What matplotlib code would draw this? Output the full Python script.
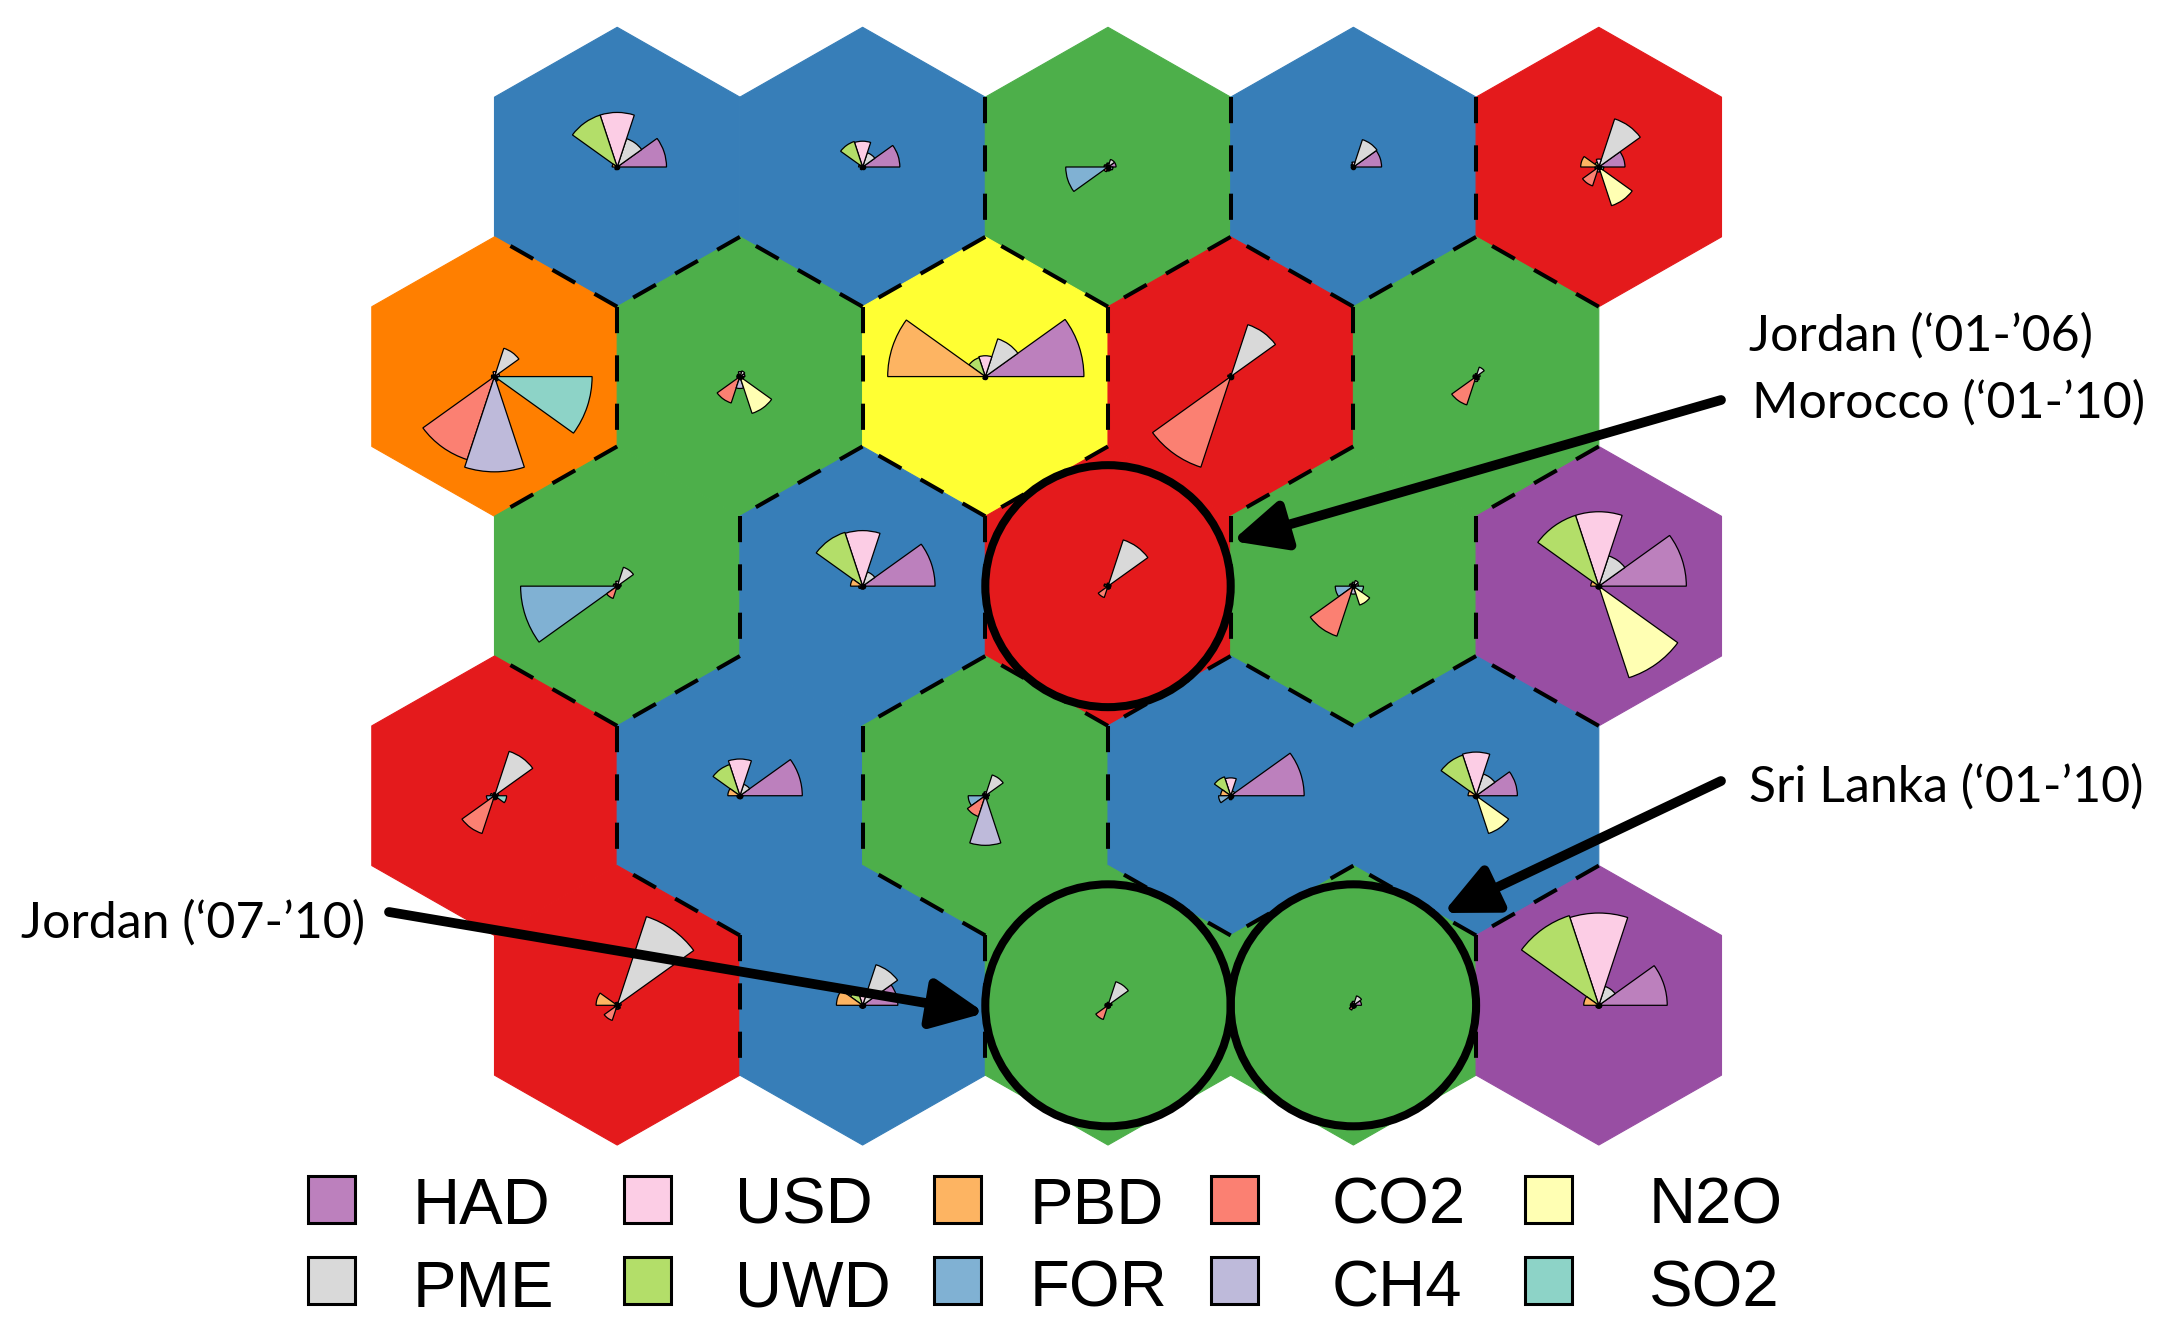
import numpy as np
import matplotlib.pyplot as plt
from matplotlib.patches import Polygon, Wedge, Circle, Rectangle

# variables in the order the segments are drawn (counter-clockwise from east)
variables = ['HAD', 'PME', 'USD', 'UWD', 'PBD', 'FOR', 'CO2', 'CH4', 'N2O', 'SO2']
var_colors = ['#BC80BD', '#D9D9D9', '#FCCDE5', '#B3DE69', '#FDB462',
              '#80B1D3', '#FB8072', '#BEBADA', '#FFFFB3', '#8DD3C7']

# cluster of each map unit, rows listed from the top
clusters = [
    ['blue', 'blue', 'green', 'blue', 'red'],
    ['orange', 'green', 'yellow', 'red', 'green'],
    ['green', 'blue', 'red', 'green', 'purple'],
    ['red', 'blue', 'green', 'blue', 'blue'],
    ['red', 'blue', 'green', 'green', 'purple'],
]
cluster_colors = {'blue': '#377EB8', 'green': '#4DAF4A', 'red': '#E41A1C',
                  'orange': '#FF7F00', 'yellow': '#FFFF33', 'purple': '#984EA3'}

# codebook vectors (HAD, PME, USD, UWD, PBD, FOR, CO2, CH4, N2O, SO2)
row0_codes = [
    [.49, .30, .55, .55, .05, .02, .03, .02, .02, .01],
    [.37, .15, .26, .27, .04, .02, .03, .02, .02, .01],
    [.08, .08, .04, .03, .04, .42, .05, .04, .04, .05],
    [.28, .29, .05, .03, .02, .02, .02, .02, .02, .02],
    [.26, .51, .08, .05, .18, .04, .20, .05, .41, .05],
]
row1_codes = [
    [.05, .30, .05, .02, .03, .03, .88, .96, .05, .97],
    [.05, .06, .05, .03, .03, .03, .28, .12, .39, .04],
    [.98, .40, .21, .20, .97, .02, .03, .02, .02, .02],
    [.03, .55, .03, .02, .03, .02, .96, .03, .03, .02],
    [.04, .10, .03, .02, .03, .03, .30, .05, .04, .03],
]
row2_codes = [
    [.04, .20, .05, .03, .04, .96, .13, .03, .03, .03],
    [.72, .15, .56, .57, .12, .04, .03, .03, .03, .03],
    [.03, .49, .03, .02, .04, .02, .12, .03, .03, .02],
    [.05, .06, .04, .03, .04, .18, .53, .08, .20, .10],
    [.87, .32, .75, .75, .08, .03, .03, .03, .97, .03],
]
row3_codes = [
    [.04, .47, .03, .02, .04, .08, .40, .04, .04, .12],
    [.62, .12, .37, .33, .12, .03, .03, .03, .03, .03],
    [.04, .22, .04, .03, .03, .17, .22, .50, .04, .03],
    [.73, .05, .18, .20, .10, .12, .03, .04, .03, .03],
    [.41, .23, .44, .43, .08, .03, .03, .03, .40, .03],
]
row4_codes = [
    [.04, .94, .03, .03, .21, .03, .16, .04, .04, .03],
    [.35, .43, .10, .15, .26, .03, .03, .03, .03, .03],
    [.04, .25, .03, .02, .03, .03, .15, .03, .03, .02],
    [.08, .10, .04, .03, .03, .03, .05, .03, .03, .03],
    [.68, .20, .93, .95, .15, .03, .03, .03, .03, .03],
]
codes = [row0_codes, row1_codes, row2_codes, row3_codes, row4_codes]

# highlighted units (row, col)
circled = [(2, 2), (4, 2), (4, 3)]

# label lines, text position, arrow start, arrow tip (pixels from top-left)
annotations = [
    (["Jordan (\u201801-\u201906)", "Morocco (\u201801-\u201910)"], (1749, 351), (1721, 400), (1232, 541)),
    (["Sri Lanka (\u201801-\u201910)"], (1749, 802), (1721, 781), (1443, 913)),
    (["Jordan (\u201807-\u201910)"], (21, 938), (389, 912), (985, 1013)),
]

# pixel -> data mapping
X0, UX, Y0, UY = 494.5, 245.4, 167, 242.0


def to_data(xp, yp):
    return ((xp - X0) / UX, (Y0 - yp) / UY)


fig = plt.figure(figsize=(21.76, 13.31), dpi=100)
ax = fig.add_axes([0, 0, 1, 1])
ax.set_xlim(to_data(0, 0)[0], to_data(2176, 0)[0])
ax.set_ylim(to_data(0, 1331)[1], to_data(0, 0)[1])
ax.axis('off')

R = 1 / np.sqrt(3)
centers = {}
for r in range(5):
    for c in range(5):
        cx = c + (0.5 if r % 2 == 0 else 0.0)
        cy = -r * np.sqrt(3) / 2
        centers[(r, c)] = (cx, cy)
        ang = np.radians(90 + 60 * np.arange(6))
        verts = np.column_stack([cx + R * np.cos(ang), cy + R * np.sin(ang)])
        col = cluster_colors[clusters[r][c]]
        ax.add_patch(Polygon(verts, closed=True, facecolor=col, edgecolor=col, lw=0.8, zorder=1))

# dashed borders between different clusters
keys = list(centers)
for i, a in enumerate(keys):
    for b in keys[i + 1:]:
        if clusters[a[0]][a[1]] == clusters[b[0]][b[1]]:
            continue
        pa, pb = np.array(centers[a]), np.array(centers[b])
        d = pb - pa
        if abs(np.hypot(*d) - 1) > 0.05:
            continue
        m = (pa + pb) / 2
        perp = np.array([-d[1], d[0]]) / np.hypot(*d)
        e1, e2 = m + perp * R / 2, m - perp * R / 2
        ax.plot([e1[0], e2[0]], [e1[1], e2[1]], color='black', lw=2.9,
                linestyle=(0, (6.5, 5.5)), solid_capstyle='butt', zorder=2)

# segment diagrams
scale = 0.41
for (r, c), (cx, cy) in centers.items():
    vals = codes[r][c]
    for k, v in enumerate(vals):
        ax.add_patch(Wedge((cx, cy), v * scale, 36 * k, 36 * (k + 1),
                           facecolor=var_colors[k], edgecolor='black', lw=0.9, zorder=3))
    ax.plot(cx, cy, 'o', color='black', ms=3, zorder=4)

for (r, c) in circled:
    ax.add_patch(Circle(centers[(r, c)], 0.5, fill=False, edgecolor='black', lw=5.8, zorder=5))

for lines, tpos, start, tip in annotations:
    for j, line in enumerate(lines):
        ax.text(*to_data(tpos[0] + 3 * j, tpos[1] + 67 * j), line, fontsize=36,
                family='Lato', ha='left', va='baseline', zorder=7)
    ax.annotate('', xy=to_data(*tip), xytext=to_data(*start),
                arrowprops=dict(arrowstyle='-|>,head_length=1.6,head_width=0.75', lw=7,
                                color='black', mutation_scale=20, shrinkA=0, shrinkB=0),
                zorder=6)

# legend
sq_x = [308, 624, 934, 1211, 1525]
txt_x = [413, 735, 1030, 1332, 1649]
sq_top = [1176, 1257]
baseline = [1224, 1307]
size = 47
for i, (name, colr) in enumerate(zip(variables, var_colors)):
    col, row = i // 2, i % 2
    x0, y0 = to_data(sq_x[col], sq_top[row] + size)
    ax.add_patch(Rectangle((x0, y0), size / UX, size / UY, facecolor=colr,
                           edgecolor='black', lw=2.2, zorder=5))
    ax.text(*to_data(txt_x[col], baseline[row]), name, fontsize=47,
            family='Liberation Sans', ha='left', va='baseline', zorder=5)

fig.savefig('out.png', dpi=100)
